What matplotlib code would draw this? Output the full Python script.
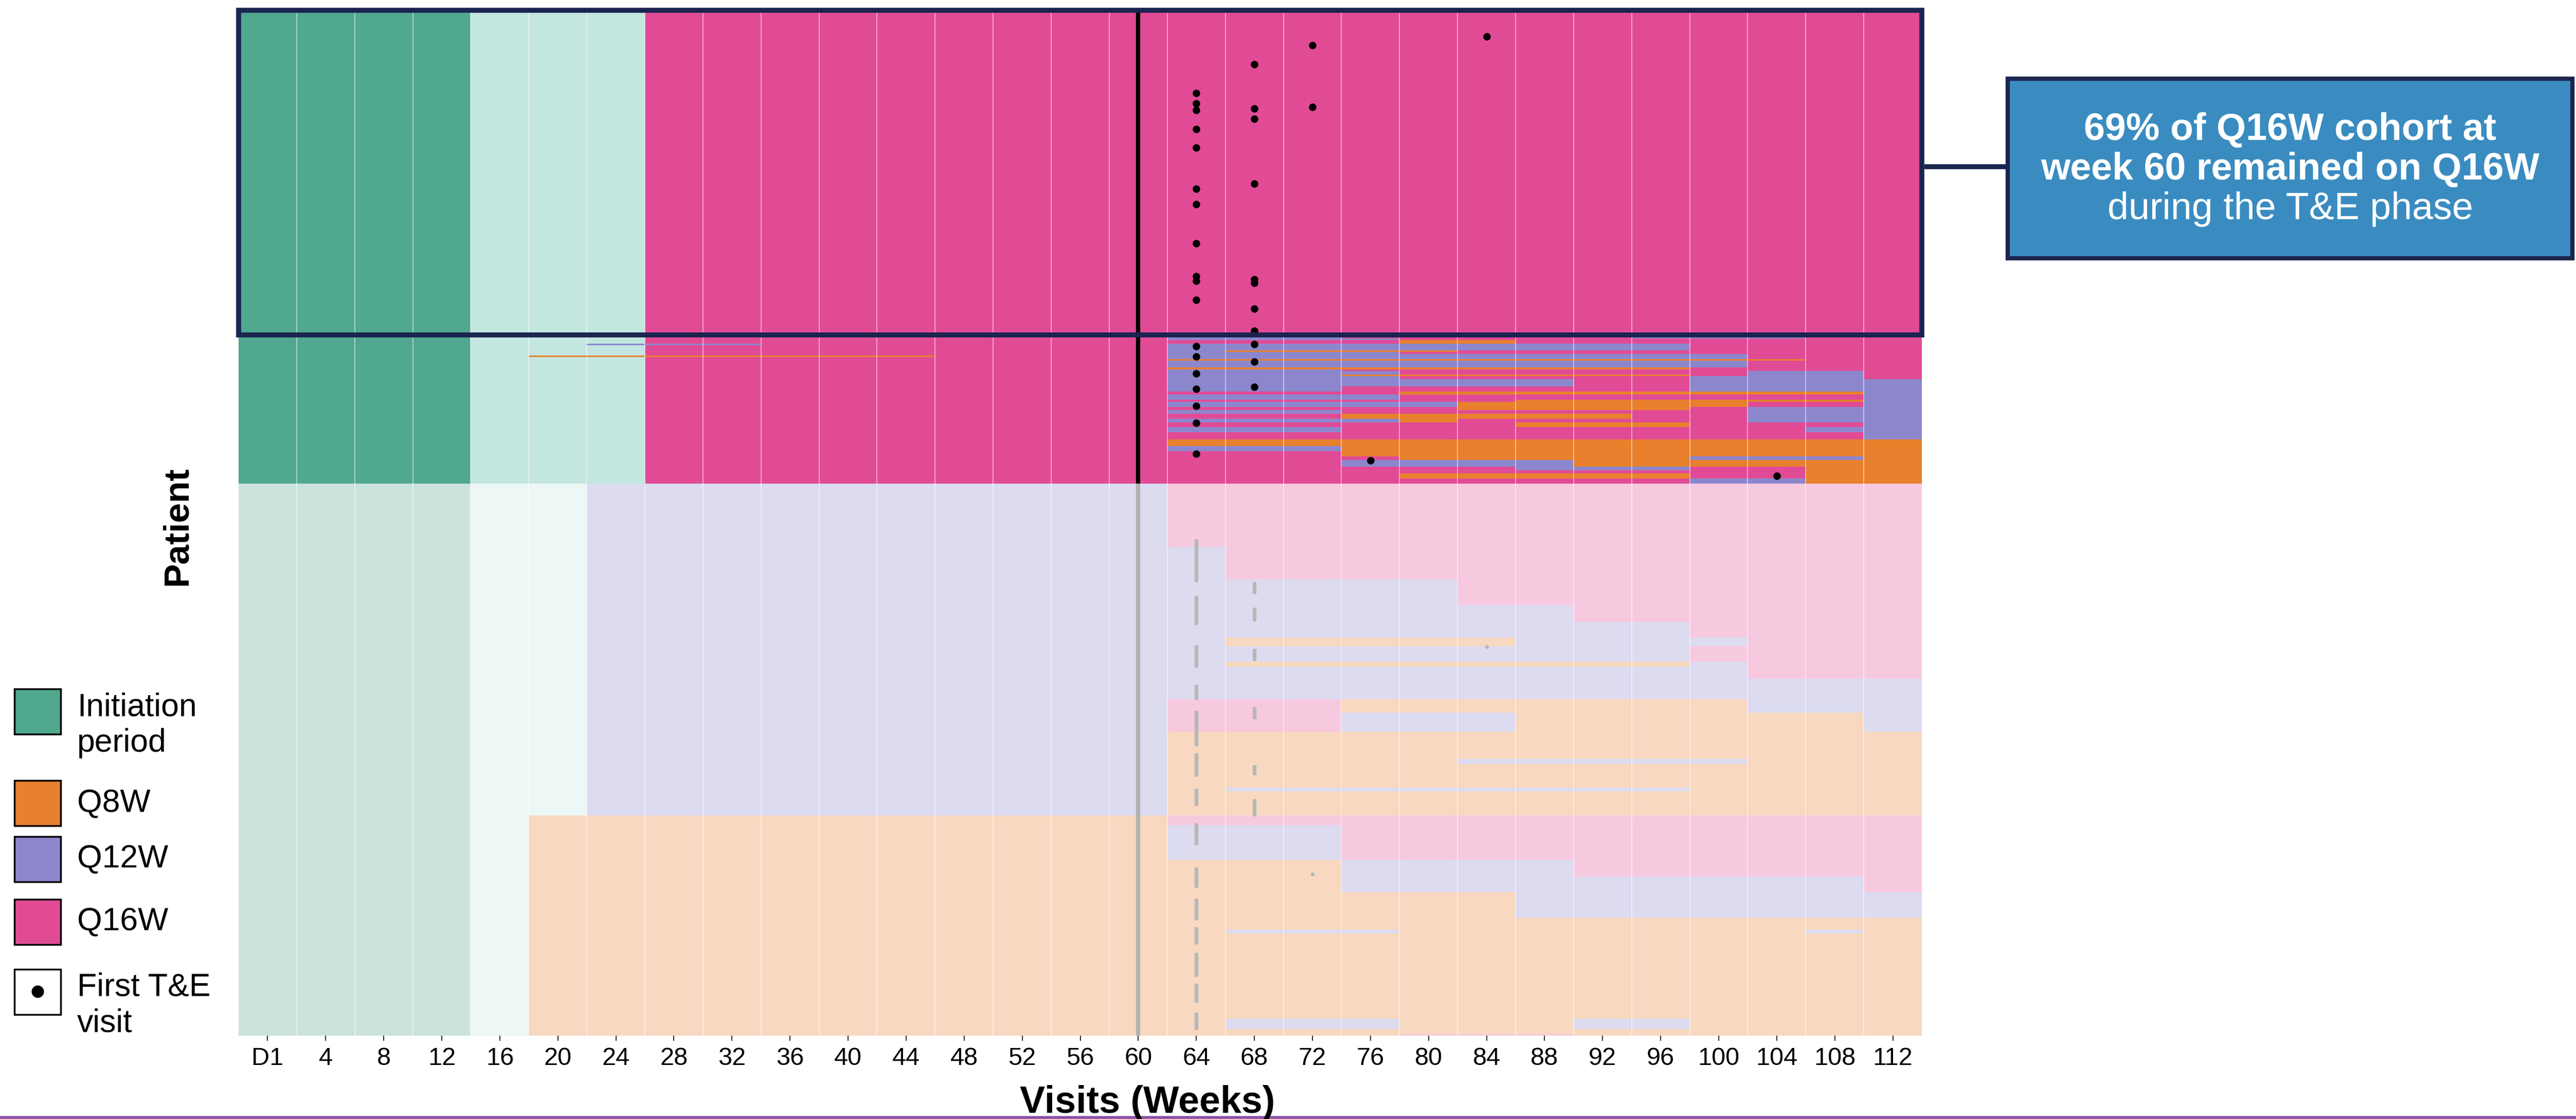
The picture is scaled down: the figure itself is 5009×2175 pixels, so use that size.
import numpy as np
import matplotlib
matplotlib.use("Agg")
import matplotlib.pyplot as plt
from matplotlib.colors import ListedColormap
from matplotlib.patches import Rectangle

plt.rcParams['font.family'] = ['Liberation Sans', 'DejaVu Sans']

# Visit schedule ==============================================================
visit_weeks = [0, 4, 8, 12, 16, 20, 24, 28, 32, 36, 40, 44, 48, 52, 56, 60,
               64, 68, 72, 76, 80, 84, 88, 92, 96, 100, 104, 108, 112]
visit_labels = ['D1', '4', '8', '12', '16', '20', '24', '28', '32', '36', '40',
                '44', '48', '52', '56', '60', '64', '68', '72', '76', '80', '84',
                '88', '92', '96', '100', '104', '108', '112']

# Regimen codes used in the per-patient strings
codes = ['1', '0', '8', '2', '6']
code_names = ['Initiation period', 'no dose', 'Q8W', 'Q12W', 'Q16W']
code_colors = ['#50A88E', '#C4E6E0', '#E8802D', '#8C87CD', '#E14B96']

# Fixed dosing up to week 60, one string per cohort (D1 ... week 60)
pre_q16w = "1111000666666666"
pre_q12w = "1111002222222222"
pre_q8w = "1111088888888888"

# T&E phase (weeks 64 ... 112) as blocks of (patients, regimen per visit)
te_q16w_remained = [(190, "6666666666666")]
te_q16w_switched = [
    (2, "2226666622266"), (1, "2222666666666"), (2, "6666886666666"),
    (4, "2222222226666"), (1, "2888866666666"), (1, "2222666666666"),
    (3, "2222222222666"), (1, "8888888888866"), (4, "2222222222666"),
    (1, "8888888886666"), (1, "2226666666666"), (2, "2222666666226"),
    (1, "2228888886226"), (2, "2222666662226"), (4, "2222222662222"),
    (3, "2226666662222"), (2, "6666888888882"), (3, "2222666666662"),
    (1, "6666668888882"), (3, "2222288888662"), (2, "6666688886222"),
    (2, "2226666666222"), (3, "6668888866222"), (2, "2222866666222"),
    (3, "6666668886662"), (3, "2226666666622"), (4, "6666666666662"),
    (4, "8888888888888"), (3, "2228888888888"), (3, "6668888888888"),
    (2, "6666888882228"), (4, "6662222888888"), (2, "6666662226688"),
    (2, "6666666666688"), (3, "6666888886688"), (3, "6666666662288"),
]
te_q12w = [
    (37, "6666666666666"), (19, "2666666666666"), (15, "2222266666666"),
    (10, "2222222666666"), (9, "2222222226666"), (5, "2888882222666"),
    (9, "2222222226666"), (3, "2888888882666"), (7, "2222222222666"),
    (12, "2222222222222"), (8, "6668888888222"), (11, "6662228888882"),
    (16, "8888888888888"), (3, "8888822222888"), (14, "8888888888888"),
    (2, "8222222228888"), (14, "8888888888888"),
]
te_q8w = [
    (6, "6666666666666"), (20, "2226666666666"), (10, "8882222666666"),
    (9, "8882222222226"), (15, "8888882222222"), (7, "8888888888888"),
    (2, "8222888888828"), (6, "8888888888888"), (44, "8888888888888"),
    (6, "8222888228888"), (3, "8888888888888"), (1, "8888666888888"),
]

# Early interval changes before week 60: (patient row, first week, last week, regimen)
early_switches = [(195, 24, 32, '2'), (202, 20, 44, '8')]

# First T&E visit: (patient row, week)
first_te_q16w = [
    (15, 84), (20, 72), (56, 72),
    (31, 68), (57, 68), (63, 68), (101, 68), (157, 68), (159, 68), (174, 68),
    (187, 68), (195, 68), (205, 68), (220, 68),
    (48, 64), (54, 64), (58, 64), (69, 64), (80, 64), (104, 64), (113, 64),
    (136, 64), (155, 64), (158, 64), (169, 64), (196, 64), (202, 64), (212, 64),
    (221, 64), (231, 64), (241, 64), (259, 64),
    (263, 76), (272, 104),
]
# Q12W / Q8W cohorts: runs of consecutive patient rows (first, last, week)
first_te_runs = [
    (310, 333, 64), (343, 358, 64), (372, 383, 64), (395, 402, 64),
    (410, 429, 64), (435, 447, 64), (456, 464, 64), (476, 487, 64),
    (502, 512, 64), (520, 531, 64), (537, 545, 64), (552, 564, 64),
    (570, 579, 64), (587, 595, 64),
    (335, 340, 68), (350, 356, 68), (374, 379, 68), (408, 413, 68),
    (442, 446, 68), (462, 470, 68),
    (372, 372, 84), (505, 505, 72),
]

# Build the patient x visit matrix =============================================
rows = []
for pre, blocks in [(pre_q16w, te_q16w_remained + te_q16w_switched),
                    (pre_q12w, te_q12w), (pre_q8w, te_q8w)]:
    for n, seq in blocks:
        rows += [pre + seq] * n
grid = np.array([[codes.index(c) for c in r] for r in rows])
for row, w0, w1, reg in early_switches:
    grid[row, visit_weeks.index(w0):visit_weeks.index(w1) + 1] = codes.index(reg)

n_remained = sum(n for n, _ in te_q16w_remained)
n_q16w = n_remained + sum(n for n, _ in te_q16w_switched)
n_total = len(rows)

x_edges = np.array(visit_weeks + [visit_weeks[-1] + 4]) - 2
y_edges = np.arange(n_total + 1)

run_w, run_r = [], []
for r0, r1, w in first_te_runs:
    for r in range(r0, r1 + 1):
        run_w.append(w)
        run_r.append(r + 0.5)

# Figure ======================================================================
W, H = 5009, 2175
fig = plt.figure(figsize=(W / 100, H / 100), dpi=100)
ax = fig.add_axes([464 / W, 1 - 2013 / H, (3737 - 464) / W, (2013 - 20) / H])

ax.pcolormesh(x_edges, y_edges, grid, cmap=ListedColormap(code_colors),
              vmin=-0.5, vmax=len(codes) - 0.5, shading='flat', zorder=1)
for e in x_edges[1:-1]:
    ax.axvline(e, color='white', lw=1.3, alpha=0.55, zorder=2)
ax.axvline(60, color='black', lw=6, zorder=3)
ax.scatter([w for _, w in first_te_q16w], [r + 0.5 for r, _ in first_te_q16w],
           s=110, color='black', lw=0, zorder=4)
ax.scatter(run_w, run_r, s=30, color='#111111', lw=0, zorder=4)

# fade out the Q12W and Q8W cohorts
ax.add_patch(Rectangle((x_edges[0], n_q16w), x_edges[-1] - x_edges[0],
                       n_total - n_q16w, facecolor='white', alpha=0.7,
                       lw=0, zorder=5))
# highlight patients remaining on Q16W
ax.add_patch(Rectangle((x_edges[0], 0), x_edges[-1] - x_edges[0], n_remained,
                       fill=False, edgecolor='#1B2550', lw=7, clip_on=False,
                       zorder=6))

ax.set_xlim(x_edges[0], x_edges[-1])
ax.set_ylim(n_total, 0)
ax.set_xticks(visit_weeks)
ax.set_xticklabels(visit_labels, fontsize=35)
ax.tick_params(axis='x', length=7, width=1.5, pad=9, color='#333333')
ax.set_yticks([])
for s in ax.spines.values():
    s.set_visible(False)

# Labels, legend and call-out in pixel coordinates ============================
ov = fig.add_axes([0, 0, 1, 1], zorder=10)
ov.set_xlim(0, W)
ov.set_ylim(H, 0)
ov.axis('off')
ov.patch.set_visible(False)

ov.text(2231, 2163, 'Visits (Weeks)', ha='center', va='baseline',
        fontsize=53, fontweight='bold')
ov.text(345, 1022, 'Patient', ha='center', va='center', rotation=90,
        fontsize=50, fontweight='bold')

legend_items = [
    (1339, code_colors[0], ['Initiation', 'period']),
    (1517, code_colors[2], ['Q8W']),
    (1626, code_colors[3], ['Q12W']),
    (1748, code_colors[4], ['Q16W']),
    (1884, 'white', ['First T&E', 'visit']),
]
for top, col, lines in legend_items:
    ov.add_patch(Rectangle((28, top), 90, 88, facecolor=col,
                           edgecolor='black', lw=2.5))
    if len(lines) == 1:
        ov.text(150, top + 44, lines[0], va='center', ha='left', fontsize=45)
    else:
        for i, t in enumerate(lines):
            ov.text(150, top + 52 + 70 * i, t, va='baseline', ha='left',
                    fontsize=45)
ov.scatter([73], [1927], s=300, color='black', lw=0)

ov.plot([3742, 3904], [324, 324], color='#1B2550', lw=7,
        solid_capstyle='butt')
ov.add_patch(Rectangle((3904, 153), 1098, 349, facecolor='#3A8CC0',
                       edgecolor='#1B2550', lw=6))
ov.text(4453, 272, '69% of Q16W cohort at', ha='center', va='baseline',
        color='white', fontsize=53, fontweight='bold')
ov.text(4453, 349, 'week 60 remained on Q16W', ha='center', va='baseline',
        color='white', fontsize=53, fontweight='bold')
ov.text(4453, 426, 'during the T&E phase', ha='center', va='baseline',
        color='white', fontsize=53)

ov.plot([0, W], [2172, 2172], color='#8A4FA8', lw=4)

fig.savefig('out.png', dpi=100)
